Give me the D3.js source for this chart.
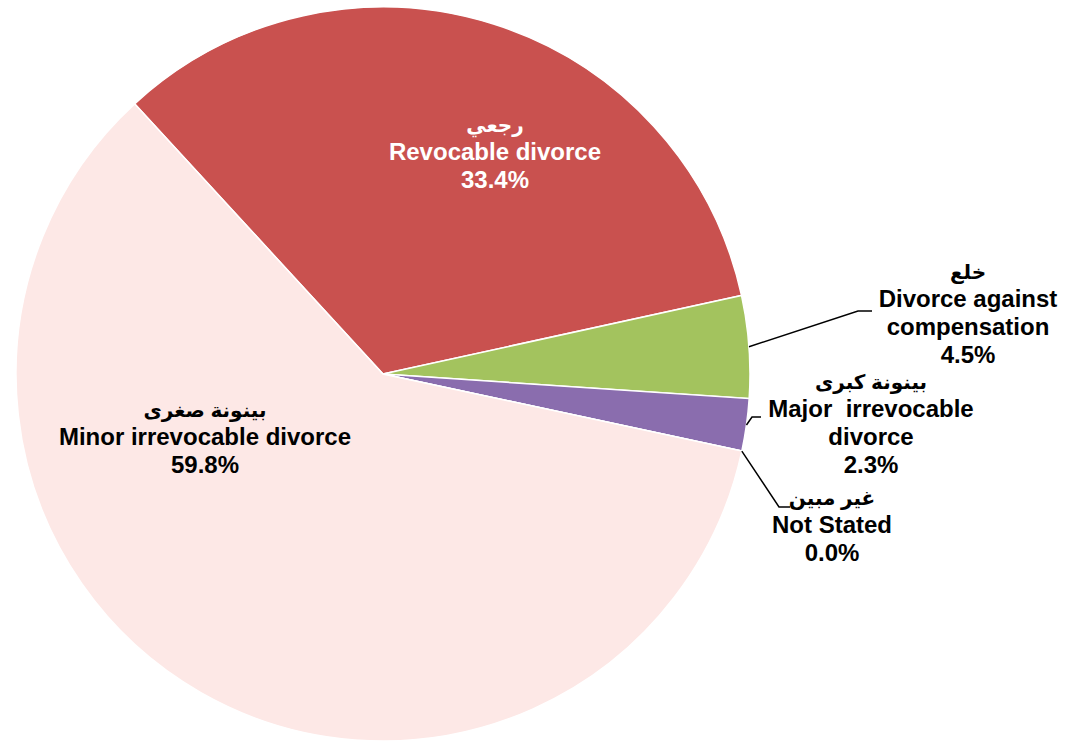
<!DOCTYPE html>
<html>
<head>
<meta charset="utf-8">
<script src="https://cdn.jsdelivr.net/npm/d3@7"></script>
<style>
  html, body { margin: 0; padding: 0; background: #fff; }
  svg text { font-family: "Liberation Sans", Arial, "DejaVu Sans", sans-serif; font-weight: bold; }
</style>
</head>
<body>
<svg id="chart" width="1067" height="744"></svg>
<script>
// Categories (English / Arabic) and shares in %
const namesEn = ["Revocable divorce", "Divorce against compensation", "Major  irrevocable divorce", "Not Stated", "Minor irrevocable divorce"];
const namesAr = ["رجعي", "خلع", "بينونة كبرى", "غير مبين", "بينونة صغرى"];
const values  = [33.4, 4.5, 2.3, 0.0, 59.8];
const colors  = ["#C9514F", "#A3C35E", "#8A6DAE", "#FDE8E6", "#FDE8E6"];

// How the English name is split across lines in each label
const labelLines = [
    ["Revocable divorce"],
    ["Divorce against", "compensation"],
    ["Major  irrevocable", "divorce"],
    ["Not Stated"],
    ["Minor irrevocable divorce"]
];

// Layout
const cx = 383, cy = 374, radius = 367;
const startDeg = -42.6;
const lineH = 28;

// Label anchors (centre x, baseline of the Arabic line) and leader lines
const labelPos = [
    {x: 495, y: 132, fill: "#fff"},
    {x: 968, y: 279, fill: "#000", leader: [[858, 311], [872, 311]]},
    {x: 871, y: 389, fill: "#000", leader: [[752, 417], [761, 417]]},
    {x: 832, y: 505, fill: "#000", leader: [[779, 507], [790, 507]]},
    {x: 205, y: 417, fill: "#000"}
];

const svg = d3.select("#chart");
const g = svg.append("g").attr("transform", "translate(" + cx + "," + cy + ")");

const start = startDeg * Math.PI / 180;
const pie = d3.pie().sort(null).startAngle(start).endAngle(start + 2 * Math.PI)(values);

const arc = d3.arc().innerRadius(0).outerRadius(radius);

// Sectors
g.selectAll("path.slice")
    .data(pie)
    .enter()
    .append("path")
    .attr("class", "slice")
    .attr("d", arc)
    .attr("fill", (d, i) => colors[i])
    .attr("stroke", "#fff")
    .attr("stroke-width", 1.5);

// Leader lines from the slice edge at the mid angle
pie.forEach(function (d, i) {
    const p = labelPos[i];
    if (!p.leader) return;
    const a = (d.startAngle + d.endAngle) / 2;
    const pts = [[cx + radius * Math.sin(a), cy - radius * Math.cos(a)]].concat(p.leader);
    svg.append("path")
        .attr("d", d3.line()(pts))
        .attr("fill", "none")
        .attr("stroke", "#000")
        .attr("stroke-width", 1.5);
});

// Labels
pie.forEach(function (d, i) {
    const p = labelPos[i];
    const t = svg.append("text")
        .attr("text-anchor", "middle")
        .attr("fill", p.fill);
    t.append("tspan")
        .attr("x", p.x).attr("y", p.y)
        .attr("font-size", 20)
        .attr("direction", "rtl")
        .text(namesAr[i]);
    const lines = labelLines[i].concat([d.data.toFixed(1) + "%"]);
    lines.forEach(function (s, k) {
        t.append("tspan")
            .attr("x", p.x)
            .attr("y", p.y + lineH * (k + 1))
            .attr("font-size", 24)
            .style("white-space", "pre")
            .text(s);
    });
});
</script>
</body>
</html>
